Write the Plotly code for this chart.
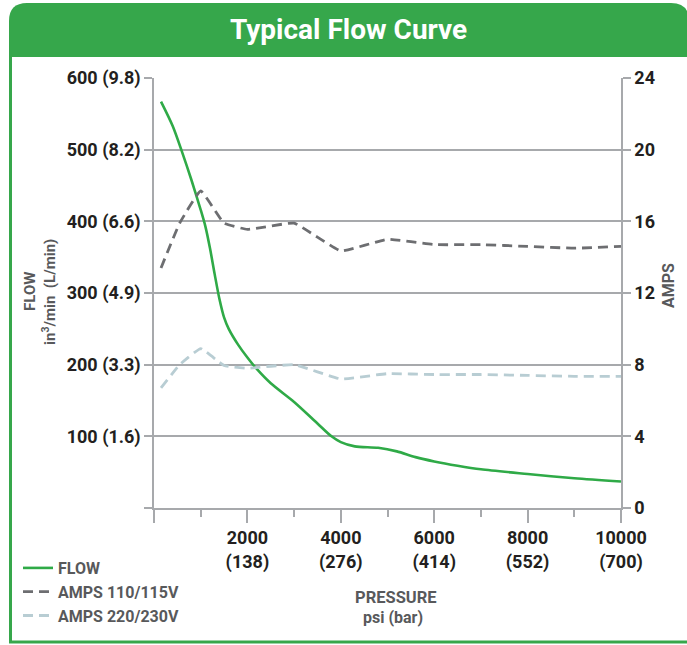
import plotly.graph_objects as go

# ---------------- data ----------------
flow_pressure = [150, 400, 600, 800, 1000, 1100, 1200, 1300, 1400, 1500, 1600, 1800, 2000,
                 2200, 2500, 3000, 3500, 3800, 4000, 4300, 4800, 5200, 5600, 6000, 6500,
                 7000, 8000, 9000, 10000]
flow_in3 = [567, 533, 497, 458, 416, 393, 362, 326, 292, 266, 250, 228, 210,
            194, 174, 148, 118, 100, 92, 86, 84, 79, 71, 65, 59,
            54, 47.5, 41.5, 37]

amps_pressure = [150, 550, 1000, 1500, 2000, 3000, 4000, 5000, 6000, 7000, 8000, 9000, 10000]
amps_110 = [13.4, 15.9, 17.7, 15.9, 15.55, 15.9, 14.35, 15.0, 14.7, 14.7, 14.6, 14.5, 14.6]
amps_220 = [6.7, 8.0, 8.9, 7.95, 7.8, 8.0, 7.2, 7.5, 7.45, 7.45, 7.4, 7.35, 7.35]

x_tickvals = [0, 2000, 4000, 6000, 8000, 10000]
x_ticktext = ["", "2000<br>(138)", "4000<br>(276)", "6000<br>(414)", "8000<br>(552)", "10000<br>(700)"]
y_tickvals = [0, 100, 200, 300, 400, 500, 600]
y_ticktext = ["", "100 (1.6)", "200 (3.3)", "300 (4.9)", "400 (6.6)", "500 (8.2)", "600 (9.8)"]
y2_tickvals = [0, 4, 8, 12, 16, 20, 24]
y2_ticktext = ["0", "4", "8", "12", "16", "20", "24"]

# ---------------- style ----------------
W, H = 687, 645
ML, MR, MT, MB = 154, 66, 78, 137
PW, PH = W - ML - MR, H - MT - MB
FONT = "Roboto, Liberation Sans, Arial, sans-serif"
GREEN = "#36a74b"
LINE_GREEN = "#2faa47"
DARK = "#6d6e71"
LIGHT = "#b8cdd3"
GRID = "#a7a9ac"
TXT = "#231f20"
GRAYTXT = "#58595b"


def px(x):
    return (x - ML) / PW


def py(y):
    return (H - MB - y) / PH


fig = go.Figure()
fig.add_trace(go.Scatter(x=flow_pressure, y=flow_in3, name="FLOW", mode="lines",
                         line=dict(color=LINE_GREEN, width=2.6, shape="spline", smoothing=0.8),
                         yaxis="y"))
fig.add_trace(go.Scatter(x=amps_pressure, y=amps_110, name="AMPS 110/115V", mode="lines",
                         line=dict(color=DARK, width=2.8, dash="10px,6px", shape="spline", smoothing=0.3),
                         yaxis="y2"))
fig.add_trace(go.Scatter(x=amps_pressure, y=amps_220, name="AMPS 220/230V", mode="lines",
                         line=dict(color=LIGHT, width=2.8, dash="10px,6px", shape="spline", smoothing=0.3),
                         yaxis="y2"))

tickfont = dict(family=FONT, size=18, color=TXT, weight="bold")

fig.update_layout(
    width=W, height=H,
    margin=dict(l=ML, r=MR, t=MT, b=MB, pad=0, autoexpand=False),
    paper_bgcolor="white", plot_bgcolor="white",
    font=dict(family=FONT),
    xaxis=dict(range=[0, 10000], tickvals=x_tickvals, ticktext=x_ticktext,
               showgrid=False, zeroline=False, showline=True, linecolor=GRID, linewidth=1.5,
               ticks="outside", ticklen=13, tickwidth=1.5, tickcolor=GRID,
               minor=dict(dtick=1000, tick0=0, ticks="outside", ticklen=7, tickwidth=1.5, tickcolor=GRID),
               tickfont=tickfont, fixedrange=True, automargin=False),
    yaxis=dict(range=[0, 600], tickvals=y_tickvals, ticktext=y_ticktext,
               showgrid=True, gridcolor=GRID, gridwidth=1.5, zeroline=False,
               showline=True, linecolor=GRID, linewidth=1.5,
               ticks="outside", ticklen=8, tickwidth=1.5, tickcolor=GRID,
               tickfont=tickfont, automargin=False),
    yaxis2=dict(range=[0, 24], tickvals=y2_tickvals, ticktext=y2_ticktext, overlaying="y", side="right",
                showgrid=False, zeroline=False, showline=True, linecolor=GRID, linewidth=1.5,
                ticks="outside", ticklen=8, tickwidth=1.5, tickcolor=GRID,
                tickfont=tickfont, automargin=False),
    legend=dict(x=px(18), y=py(551), xanchor="left", yanchor="top",
                font=dict(family=FONT, size=16, color=GRAYTXT, weight="bold"),
                bgcolor="rgba(0,0,0,0)", tracegroupgap=0, itemwidth=30),
    showlegend=True,
)

# header bar and frame
x0, x1, yt, yb = px(9), px(689), py(3), py(57)
rx, ry = 18 / PW, 18 / PH
header = (f"M {x0},{yb} L {x0},{yt - ry} Q {x0},{yt} {x0 + rx},{yt} "
          f"L {x1 - rx},{yt} Q {x1},{yt} {x1},{yt - ry} L {x1},{yb} Z")
fig.add_shape(type="path", path=header, xref="paper", yref="paper",
              fillcolor=GREEN, line=dict(width=0), layer="below")
fig.add_shape(type="line", xref="paper", yref="paper", x0=px(10.5), x1=px(10.5), y0=py(56), y1=py(642),
              line=dict(color=GREEN, width=3))
fig.add_shape(type="line", xref="paper", yref="paper", x0=px(9), x1=px(690), y0=py(642), y1=py(642),
              line=dict(color=GREEN, width=3))

ann = [
    dict(text="Typical Flow Curve", x=px(348), y=py(30),
         font=dict(family=FONT, size=28, color="white", weight="bold")),
    dict(text="FLOW", x=px(30), y=py(292), textangle=-90,
         font=dict(family=FONT, size=15, color=GRAYTXT, weight="bold")),
    dict(text="in<sup>3</sup>/min  (L/min)", x=px(49), y=py(292), textangle=-90,
         font=dict(family=FONT, size=15, color=GRAYTXT, weight="bold")),
    dict(text="AMPS", x=px(668), y=py(286), textangle=-90,
         font=dict(family=FONT, size=16, color=GRAYTXT, weight="bold")),
    dict(text="PRESSURE", x=px(396), y=py(597),
         font=dict(family=FONT, size=16.5, color=GRAYTXT, weight="bold")),
    dict(text="psi (bar)", x=px(393), y=py(617),
         font=dict(family=FONT, size=16, color=GRAYTXT, weight="bold")),
]
for a in ann:
    fig.add_annotation(xref="paper", yref="paper", showarrow=False,
                       xanchor="center", yanchor="middle", **a)

fig.write_html("out.html", config={"displayModeBar": False},
               post_script="document.body.style.margin='0';document.body.style.overflow='hidden';")
